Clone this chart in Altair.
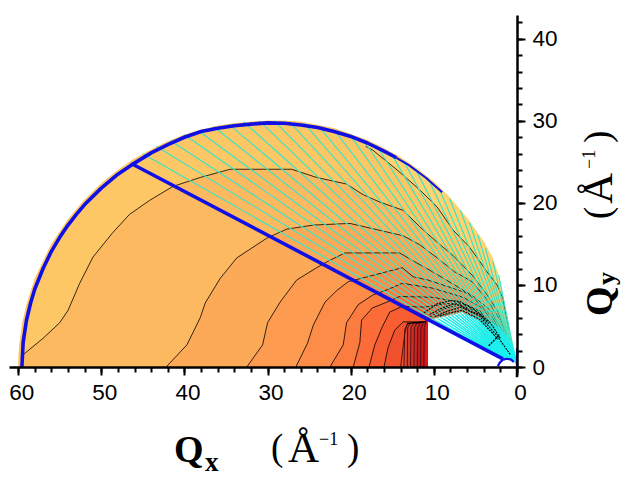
import altair as alt
import pandas as pd

# half-disc outline of the measured region
disc_x = [60.0, 59.9, 59.5, 59.0, 58.0, 56.0, 54.0, 52.0, 50.0, 48.0, 46.0, 44.0, 42.0, 40.0, 38.0, 36.0, 34.0, 32.0, 30.0,
          28.0, 26.0, 24.0, 22.0, 20.0, 18.0, 16.0, 14.0, 12.0, 10.0, 8.0, 6.0, 4.0, 3.0, 2.2, 1.2, 0.6, 0.2]
disc_y = [0.0, 2.4, 5.4, 7.6, 10.8, 15.0, 18.0, 20.4, 22.4, 24.0, 25.4, 26.5, 27.5, 28.3, 28.9, 29.4, 29.7, 29.9, 30.0,
          30.0, 29.9, 29.5, 29.1, 28.4, 27.7, 26.7, 25.6, 24.2, 22.6, 20.6, 18.2, 15.3, 13.5, 11.2, 6.2, 3.0, 1.0]
# the outermost band follows the disc as far as x = 20
band0_x = [60.0, 59.9, 59.5, 59.0, 58.0, 56.0, 54.0, 52.0, 50.0, 48.0, 46.0, 44.0, 42.0, 40.0, 38.0, 36.0, 34.0, 32.0, 30.0,
           28.0, 26.0, 24.0, 22.0, 20.0]
band0_y = [0.0, 2.4, 5.4, 7.6, 10.8, 15.0, 18.0, 20.4, 22.4, 24.0, 25.4, 26.5, 27.5, 28.3, 28.9, 29.4, 29.7, 29.9, 30.0,
           30.0, 29.9, 29.5, 29.1, 28.4]

c0_x = [18.2, 17.3, 14.4, 11.7, 9.6, 7.7, 5.7, 3.6, 2.4, 1.7, 1.0]
c0_y = [26.9, 26.4, 24.0, 21.6, 19.5, 16.7, 14.6, 11.6, 10.0, 8.4, 4.5]
c1_x = [59.4, 57.0, 55.0, 54.0, 52.6, 51.0, 48.6, 46.6, 44.2, 41.4, 38.1, 34.5, 27.1, 24.1, 20.5, 18.5, 16.5, 13.7, 11.7, 9.6, 7.7, 5.4, 3.6, 2.4, 1.2]
c1_y = [1.5, 3.5, 5.4, 6.9, 10.2, 13.4, 16.4, 18.6, 20.3, 22.0, 23.1, 24.1, 24.1, 23.1, 22.3, 21.0, 20.1, 19.1, 17.1, 15.2, 13.6, 11.2, 8.8, 6.9, 3.9]
c2_x = [42.2, 39.7, 38.1, 37.5, 35.7, 33.7, 30.1, 27.7, 24.5, 20.1, 13.7, 11.7, 9.6, 7.5, 5.4, 3.6, 2.0, 1.0]
c2_y = [0.0, 2.7, 6.0, 7.8, 10.8, 13.3, 15.7, 16.8, 17.3, 17.5, 16.0, 14.9, 13.3, 11.6, 10.4, 8.2, 5.7, 2.7]
c3_x = [32.5, 30.6, 30.0, 28.5, 26.5, 24.1, 22.9, 20.7, 17.3, 14.1, 12.6, 10.5, 7.5, 5.1, 3.2, 1.7]
c3_y = [0.0, 2.7, 5.4, 7.9, 10.6, 12.1, 12.8, 13.9, 13.9, 13.9, 13.0, 11.8, 10.0, 8.5, 6.9, 4.3]
c4_x = [26.6, 25.2, 24.5, 23.1, 21.7, 20.3, 19.5, 13.8, 12.5, 10.7, 6.0, 4.7, 2.9, 1.4]
c4_y = [0.0, 2.9, 5.1, 7.9, 9.3, 10.4, 10.6, 12.1, 11.0, 10.6, 9.0, 7.9, 6.0, 3.0]
c5_x = [22.5, 20.9, 20.5, 19.1, 17.3, 15.9, 13.8, 10.1, 6.5, 4.2, 2.6, 1.3]
c5_y = [0.0, 2.7, 5.4, 7.6, 8.8, 9.3, 10.2, 9.6, 8.5, 7.2, 5.1, 2.4]
c6_x = [19.7, 18.9, 18.7, 17.4, 15.9, 14.1, 10.1, 7.1, 4.5, 2.8, 1.2]
c6_y = [0.0, 3.0, 5.7, 7.2, 7.8, 8.6, 8.5, 7.9, 6.9, 4.9, 2.1]
c7_x = [17.8, 17.1, 16.2, 15.3, 13.8, 11.1, 8.7, 6.9, 4.5, 2.6, 1.1]
c7_y = [0.0, 2.7, 4.9, 6.7, 7.4, 7.3, 7.7, 7.8, 6.8, 4.5, 1.8]
c8_x = [16.0, 15.5, 14.7, 13.7, 11.1, 10.5, 8.7, 6.9, 4.5, 2.5, 1.0]
c8_y = [0.0, 2.4, 4.5, 5.5, 5.5, 6.1, 7.1, 7.6, 6.6, 4.1, 1.6]
d1_x = [9.9, 8.4, 6.7, 4.5, 2.4, 0.8]
d1_y = [6.1, 6.8, 7.3, 6.2, 3.8, 1.5]
d2_x = [9.3, 8.1, 6.6, 4.5, 2.3]
d2_y = [6.2, 6.6, 6.9, 5.8, 3.4]
d3_x = [3.4, 2.8, 2.1]
d3_y = [2.6, 3.2, 3.9]
d4_x = [10.5, 9.0, 7.6, 6.8, 5.6, 4.5, 3.4]
d4_y = [6.4, 7.2, 7.7, 7.5, 6.8, 6.4, 5.3]
d5_x = [11.2, 9.6, 8.0, 6.9, 5.6, 4.5, 3.2, 2.0]
d5_y = [6.6, 7.7, 8.1, 8.0, 7.3, 6.5, 5.4, 3.5]

# steep contours of the red block
block_x = [[14.0, 13.5, 13.2, 10.7], [13.6, 13.5, 13.1, 10.7], [13.2, 13.15, 12.8, 10.7], [12.8, 12.75, 12.4, 10.7],
           [12.4, 12.35, 12.0, 10.7], [12.0, 11.95, 11.6, 10.7], [11.6, 11.55, 11.2, 10.7], [11.2, 11.15, 10.95, 10.7]]
block_y = [[0.0, 4.1, 5.3, 5.65], [0.0, 4.6, 5.3, 5.65], [0.0, 4.8, 5.35, 5.65], [0.0, 4.8, 5.4, 5.65],
           [0.0, 4.8, 5.4, 5.65], [0.0, 4.8, 5.45, 5.65], [0.0, 4.8, 5.5, 5.65], [0.0, 4.8, 5.55, 5.65]]

# empty wedge under the measured region
white_x = [10.7, 9.6, 8.1, 6.6, 4.5, 3.2, 2.0, 0.6, 0.1]
white_y = [5.7, 6.0, 6.3, 6.7, 5.6, 4.5, 2.9, 1.1, 0.1]

# where the scan lines meet the large circle
fan_x = [45.0, 43.4, 41.7, 40.0, 38.3, 36.5, 34.7, 32.9, 31.0, 29.2, 27.4, 25.6, 23.8, 22.0, 20.2, 18.5, 16.9, 15.2,
         13.7, 12.2, 10.7, 9.4, 8.1, 6.8, 5.7, 4.7, 3.8, 2.9, 2.2]
fan_y = [26.0, 26.9, 27.6, 28.3, 28.8, 29.3, 29.6, 29.9, 30.0, 30.0, 29.9, 29.7, 29.3, 28.9, 28.4, 27.7, 27.0, 26.1,
         25.2, 24.1, 23.0, 21.8, 20.5, 19.1, 17.6, 16.1, 14.5, 12.9, 11.2]

arc_x = [59.55, 59.4, 59.0, 58.5, 58.0, 57.0, 56.0, 55.0, 54.0, 53.0, 52.0, 50.0, 48.0, 46.4, 44.0, 42.0, 40.0, 38.0, 36.0, 34.0, 32.0, 30.0, 28.0, 26.0, 24.0, 22.0, 20.0, 18.0, 16.0, 14.5]
arc_y = [0.0, 3.0, 5.7, 7.8, 9.5, 12.0, 14.1, 15.8, 17.3, 18.6, 19.8, 21.8, 23.5, 24.6, 26.1, 27.1, 28.0, 28.7, 29.1, 29.4, 29.6, 29.75, 29.7, 29.5, 29.2, 28.7, 28.1, 27.3, 26.3, 25.5]
arc_thin_x = [14.5, 13.0, 11.0, 9.0]
arc_thin_y = [25.5, 24.6, 23.1, 21.3]
diag_x = [46.4, 1.7]
diag_y = [24.8, 1.0]
small_x = [2.3, 2.1, 1.7, 1.2, 0.7, 0.4]
small_y = [0.1, 0.5, 0.9, 1.0, 0.9, 0.6]
stub_x = [0.0, 0.0]
stub_y = [0.0, 2.3]

fills = ["#FFD272", "#FDC766", "#FDB960", "#FDAA58", "#FD9B50", "#FD8C48", "#FC7C40", "#FB6C38", "#F85E32", "#F0522E"]
block_fills = ["#E8502E", "#E0462C", "#D83C2A", "#D03228", "#C82826", "#C01E22", "#CC161C", "#E01414"]

x_major = list(range(0, 61, 10))
x_minor = list(range(0, 61, 2))
y_major = list(range(0, 41, 10))
y_minor = list(range(0, 43, 2))

X_DOM = [61.1, 0]
Y_DOM = [0, 42.9]
xs = alt.Scale(domain=X_DOM)
ys = alt.Scale(domain=Y_DOM)


def frame(x, y):
    return pd.DataFrame({"x": x, "y": y, "b": [0.0] * len(x)})


def enc(xaxis=None, yaxis=None):
    return dict(
        x=alt.X("x:Q", scale=xs, axis=xaxis),
        y=alt.Y("y:Q", scale=ys, axis=yaxis, stack=None),
    )


def area(x, y, color):
    return alt.Chart(frame(x, y)).mark_area(color=color, opacity=1, orient="vertical").encode(
        y2=alt.Y2("b:Q"), **enc())


def line(x, y, color="black", width=0.8, dash=None):
    d = frame(x, y)
    d["i"] = range(len(x))
    opts = dict(color=color, strokeWidth=width, strokeJoin="round")
    if dash:
        opts["strokeDash"] = dash
    return alt.Chart(d).mark_line(**opts).encode(order="i:Q", **enc())


def text(t, px, py, size, bold=False, angle=0):
    return alt.Chart(pd.DataFrame({"t": [t]})).mark_text(
        font="Liberation Serif", fontSize=size, fontWeight="bold" if bold else "normal",
        align="left", baseline="alphabetic", angle=angle, color="black",
    ).encode(x=alt.value(px - 9), y=alt.value(py - 15), text="t:N")


AX = dict(title=None, grid=False, zindex=1, tickColor="black", tickWidth=2,
          labelOverlap=False, labelFlush=False, labelFont="Liberation Sans", labelFontSize=22.5,
          labelColor="black", format="d")

layers = []
layers.append(alt.Chart(frame(disc_x, disc_y)).mark_area(color=fills[0], opacity=1, orient="vertical").encode(
    y2=alt.Y2("b:Q"), **enc(
        alt.Axis(values=x_major, tickSize=8, labelPadding=6, labelOffset=3, orient="bottom",
                 domainColor="black", domainWidth=2.5, **AX),
        alt.Axis(values=y_major, tickSize=8, labelPadding=7, orient="right", labelAlign="left",
                 domainColor="black", domainWidth=2.5, **AX),
    )))
layers.append(alt.Chart(frame(disc_x, disc_y)).mark_area(opacity=0, orient="vertical").encode(
    y2=alt.Y2("b:Q"), **enc(
        alt.Axis(values=x_minor, tickSize=5, labels=False, domain=False, orient="bottom", **AX),
        alt.Axis(values=y_minor, tickSize=5, labels=False, domain=False, orient="right", **AX),
    )))
layers.append(area(band0_x + c0_x, band0_y + c0_y, fills[1]))
contours = [(c1_x, c1_y), (c2_x, c2_y), (c3_x, c3_y), (c4_x, c4_y), (c5_x, c5_y), (c6_x, c6_y), (c7_x, c7_y), (c8_x, c8_y)]
for k, (cx, cy) in enumerate(contours):
    layers.append(area(cx, cy, fills[k + 2]))
for k in range(len(block_x)):
    layers.append(area(block_x[k], block_y[k], block_fills[k]))
layers.append(area(white_x, white_y, "white"))

layers.append(line(c0_x, c0_y))
for cx, cy in contours:
    layers.append(line(cx, cy))
for k in range(len(block_x)):
    layers.append(line(block_x[k][:-1], block_y[k][:-1], "#401010", 0.9))
layers.append(line([b[2] for b in block_x], [b[2] for b in block_y], "black", 1.4))

fan_rows = []
near_rows = []
for k in range(len(fan_x)):
    fan_rows.append({"x": fan_x[k] / 30, "y": fan_y[k] / 30, "k": k, "i": 0})
    fan_rows.append({"x": fan_x[k], "y": fan_y[k], "k": k, "i": 1})
    near_rows.append({"x": fan_x[k] / 30, "y": fan_y[k] / 30, "k": k, "i": 0})
    near_rows.append({"x": fan_x[k] / 4.7, "y": fan_y[k] / 4.7, "k": k, "i": 1})
layers.append(alt.Chart(pd.DataFrame(fan_rows)).mark_line(color="#3CE4C4", strokeWidth=1.2).encode(
    detail="k:N", order="i:Q", **enc()))
layers.append(alt.Chart(pd.DataFrame(near_rows)).mark_line(color="#18F0F0", strokeWidth=1.2).encode(
    detail="k:N", order="i:Q", **enc()))

layers.append(line(d1_x, d1_y, "black", 1.1, [2, 1]))
layers.append(line(d2_x, d2_y, "black", 1.1, [2, 1]))
layers.append(line(d3_x, d3_y, "black", 1.4, [2, 1]))
layers.append(line(d4_x, d4_y, "black", 1.1, [2, 1]))
layers.append(line(d5_x, d5_y, "black", 1.1, [2, 1]))

layers.append(line(arc_x, arc_y, "#1010E6", 3.6))
layers.append(line(arc_thin_x, arc_thin_y, "#1010E6", 2.0))
layers.append(line(diag_x, diag_y, "#1010E6", 3.6))
layers.append(line(small_x, small_y, "#1010E6", 2.2))
layers.append(line(stub_x, stub_y, "#1010E6", 2.2))
layers.append(line([0, 0], [0, -1.25], "black", 2.5))

layers += [
    text("Q", 174, 462, 38, True),
    text("x", 205, 471, 27, True),
    text("(", 271, 460, 37),
    text("Å", 288, 462, 43),
    text("−1", 319, 445, 18),
    text(")", 347, 460, 37),
    text("Q", 612, 316, 38, True, 270),
    text("y", 615, 285, 26, True, 270),
    text("(", 610, 219, 37, False, 270),
    text("Å", 612, 204, 43, False, 270),
    text("−1", 595, 169, 18, False, 270),
    text(")", 610, 143, 37, False, 270),
]

chart = alt.layer(*layers).resolve_axis(x="independent", y="independent").properties(
    width=508, height=352,
    padding={"left": 1, "top": 7, "right": 105, "bottom": 110},
    autosize=alt.AutoSizeParams(type="none"),
    background="white",
).configure_view(stroke=None)

chart.save("out.html", embed_options={"renderer": "svg", "actions": False})
